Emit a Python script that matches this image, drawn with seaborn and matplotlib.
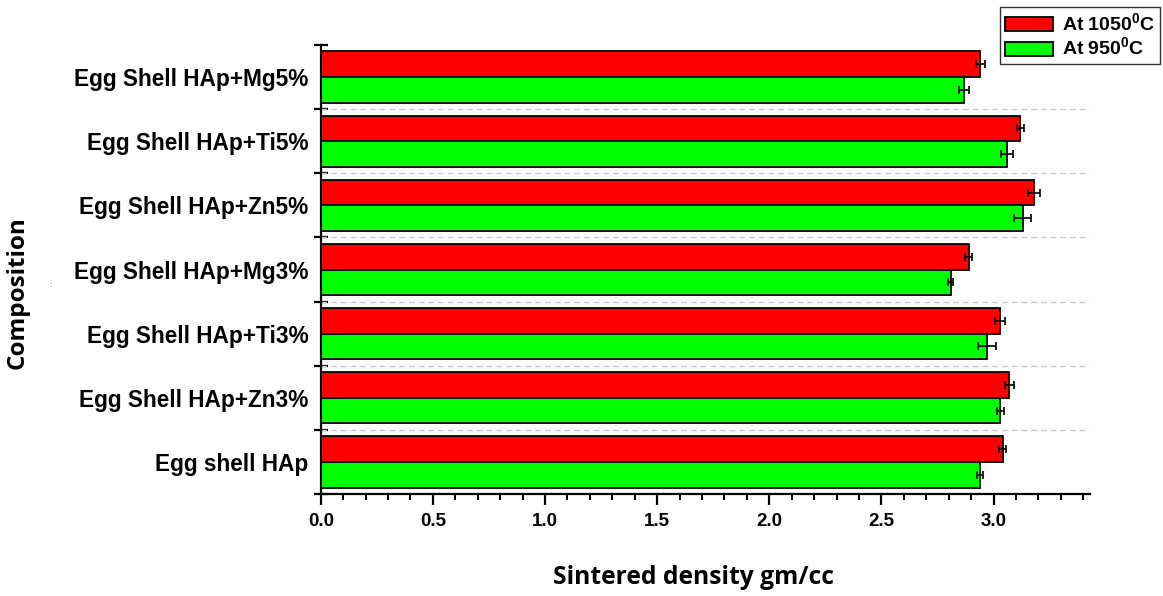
import matplotlib
matplotlib.use("Agg")
import matplotlib.pyplot as plt
from matplotlib.patches import Patch
from matplotlib.ticker import MultipleLocator, FixedLocator
import seaborn as sns
import pandas as pd
import numpy as np

# Sample compositions (top to bottom)
compositions = [
    "Egg Shell HAp+Mg5%",
    "Egg Shell HAp+Ti5%",
    "Egg Shell HAp+Zn5%",
    "Egg Shell HAp+Mg3%",
    "Egg Shell HAp+Ti3%",
    "Egg Shell HAp+Zn3%",
    "Egg shell HAp",
]
temperatures = ["At 1050$^\\mathbf{0}$C", "At 950$^\\mathbf{0}$C"]

# Sintered density (gm/cc) and standard deviation per firing temperature
density_1050 = [2.94, 3.12, 3.18, 2.89, 3.03, 3.07, 3.04]
density_950 = [2.87, 3.06, 3.13, 2.81, 2.97, 3.03, 2.94]
err_1050 = [0.020, 0.017, 0.028, 0.015, 0.023, 0.020, 0.016]
err_950 = [0.022, 0.027, 0.037, 0.011, 0.039, 0.016, 0.014]

bar_colors = ["#FF0000", "#00FF00"]

df = pd.DataFrame({
    "Composition": compositions * 2,
    "Density": density_1050 + density_950,
    "Temperature": [temperatures[0]] * len(compositions) + [temperatures[1]] * len(compositions),
})

sns.set_style("white")
plt.rcParams["font.family"] = ["Liberation Sans", "DejaVu Sans"]
plt.rcParams["mathtext.fontset"] = "custom"
plt.rcParams["mathtext.rm"] = "Liberation Sans:bold"
plt.rcParams["mathtext.bf"] = "Liberation Sans:bold"
for key in ["text.color", "axes.labelcolor", "xtick.color", "ytick.color"]:
    plt.rcParams[key] = "black"

fig = plt.figure(figsize=(11.63, 5.96), dpi=100)
ax = fig.add_axes([0.2758, 0.1711, 0.6614, 0.7534])

sns.barplot(
    data=df, y="Composition", x="Density", hue="Temperature",
    order=compositions, hue_order=temperatures, palette=bar_colors,
    saturation=1, orient="h", errorbar=None, width=0.8,
    edgecolor="black", linewidth=1.3, ax=ax, legend=False, zorder=3,
)

# Error bars placed at the ends of each bar
for container, errs in zip(ax.containers, [err_1050, err_950]):
    ys = [b.get_y() + b.get_height() / 2 for b in container]
    xs = [b.get_width() for b in container]
    ax.errorbar(xs, ys, xerr=errs, fmt="none", ecolor="black",
                elinewidth=1.2, capsize=3, capthick=1.2, zorder=4)

# Spines
for side in ["top", "right"]:
    ax.spines[side].set_visible(False)
for side in ["left", "bottom"]:
    ax.spines[side].set_linewidth(1.6)
    ax.spines[side].set_color("black")

# X ticks
ax.set_xlim(0, 3.43)
ticks = np.arange(0, 3.01, 0.5)
ax.set_xticks(ticks)
ax.set_xticklabels([f"{v:.1f}" for v in ticks], fontweight="bold")
ax.xaxis.set_minor_locator(MultipleLocator(0.1))
ax.tick_params(axis="x", which="both", bottom=True)
ax.tick_params(axis="x", which="major", direction="out", length=8, width=1.6,
               pad=6, labelsize=13.5, color="black")
ax.tick_params(axis="x", which="minor", direction="out", length=4, width=1.4,
               color="black")

# Y ticks: labels at category centres, tick marks at category boundaries
ax.tick_params(axis="y", which="major", length=0, pad=9, labelsize=16.3)
for lbl in ax.get_yticklabels():
    lbl.set_fontweight("bold")
boundaries = np.arange(-0.5, len(compositions), 1.0)
ax.yaxis.set_minor_locator(FixedLocator(boundaries))
ax.tick_params(axis="y", which="minor", left=True, direction="inout", length=10,
               width=1.6, color="black")
ax.set_ylim(len(compositions) - 0.5, -0.5)

# Dashed separators between categories
for yb in boundaries[1:-1]:
    ax.axhline(yb, color="#c8c8c8", linestyle=(0, (4, 3)), linewidth=1.0, zorder=1)

ax.set_xlabel("")
ax.set_ylabel("")

fig.text(0.596, 1 - 578 / 596, "Sintered density gm/cc", ha="center", va="center",
         fontsize=17.7, fontweight="bold", family="Open Sans")
fig.text(17.5 / 1163, 1 - 293 / 596, "Composition", ha="center", va="center",
         rotation=90, fontsize=17.5, fontweight="bold", family="Open Sans")
fig.text(50 / 1163, 1 - 286 / 596, ":", ha="center", va="center",
         fontsize=6, color="#555555")

handles = [Patch(facecolor=c, edgecolor="black", linewidth=1.3) for c in bar_colors]
leg = fig.legend(
    handles, temperatures, loc="upper right", bbox_to_anchor=(0.9974, 0.988),
    borderaxespad=0, frameon=True, fancybox=False, handlelength=2.5,
    handleheight=0.75, handletextpad=0.45, labelspacing=0.12, borderpad=0.25,
    prop={"weight": "bold", "size": 14},
)
leg.get_frame().set_edgecolor("black")
leg.get_frame().set_linewidth(1.0)

fig.savefig("out.png", dpi=100, facecolor="white")
